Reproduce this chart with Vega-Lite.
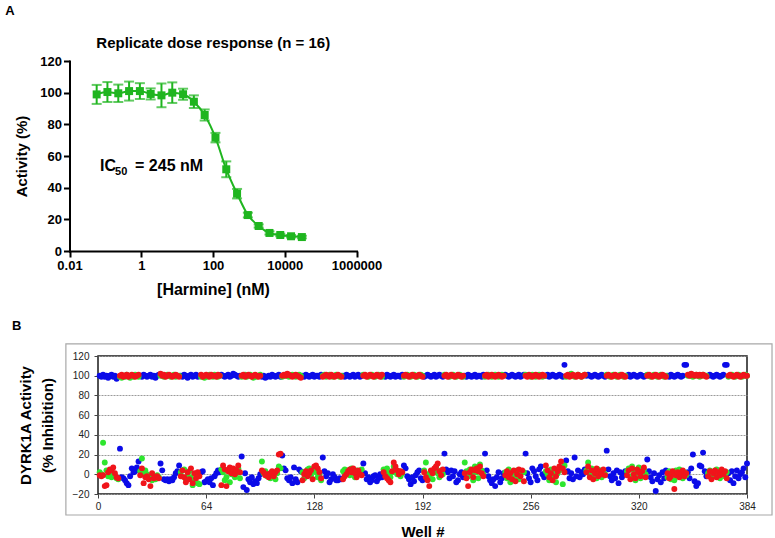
{
  "$schema": "https://vega.github.io/schema/vega-lite/v6.json",
  "padding": {"left": 5, "top": 5, "right": 5, "bottom": 5},
  "title": {"text": "A", "anchor": "start", "frame": "bounds", "fontSize": 13, "fontWeight": "bold", "offset": 18, "dx": -6, "color": "#000"},
  "spacing": 22,
  "config": {
    "font": "Liberation Sans",
    "view": {"stroke": null},
    "title": {"color": "#000"}
  },
  "vconcat": [
    {
      "title": {"text": "Replicate dose response (n = 16)", "fontSize": 15, "fontWeight": "bold", "anchor": "middle", "offset": 4, "dx": -14, "color": "#000"},
      "width": 258.5,
      "height": 190,
      "data": {"values": [
        {"conc": 0.0572, "act": 98.9, "lo": 92.9, "hi": 104.9},
        {"conc": 0.114, "act": 100.4, "lo": 94.1, "hi": 106.7},
        {"conc": 0.229, "act": 99.6, "lo": 94.1, "hi": 105.1},
        {"conc": 0.458, "act": 101.0, "lo": 95.0, "hi": 107.0},
        {"conc": 0.916, "act": 101.0, "lo": 96.0, "hi": 106.0},
        {"conc": 1.83, "act": 99.2, "lo": 95.7, "hi": 102.7},
        {"conc": 3.66, "act": 98.3, "lo": 90.8, "hi": 105.8},
        {"conc": 7.32, "act": 100.0, "lo": 93.5, "hi": 106.5},
        {"conc": 14.65, "act": 99.0, "lo": 95.5, "hi": 102.5},
        {"conc": 29.3, "act": 94.3, "lo": 90.3, "hi": 98.3},
        {"conc": 58.6, "act": 85.9, "lo": 82.4, "hi": 89.4},
        {"conc": 117.2, "act": 71.6, "lo": 68.6, "hi": 74.6},
        {"conc": 234.4, "act": 51.6, "lo": 46.6, "hi": 56.6},
        {"conc": 468.75, "act": 36.2, "lo": 33.2, "hi": 39.2},
        {"conc": 937.5, "act": 22.7, "lo": 21.2, "hi": 24.2},
        {"conc": 1875, "act": 15.8, "lo": 14.8, "hi": 16.8},
        {"conc": 3750, "act": 11.4, "lo": 10.4, "hi": 12.4},
        {"conc": 7500, "act": 10.1, "lo": 9.3, "hi": 10.9},
        {"conc": 15000, "act": 9.3, "lo": 8.5, "hi": 10.1},
        {"conc": 30000, "act": 8.8, "lo": 8.0, "hi": 9.6}
      ]},
      "layer": [
        {
          "mark": {"type": "line", "color": "#1fb51f", "strokeWidth": 2, "interpolate": "monotone"},
          "encoding": {
            "x": {"field": "conc", "type": "quantitative",
                  "scale": {"type": "log", "domain": [0.01, 1000000], "nice": false, "range": [-28.5, 258.5]},
                  "axis": {"values": [0.01, 1, 100, 10000, 1000000], "format": ".2~f", "title": "[Harmine] (nM)",
                           "titleFontSize": 16, "titleFontWeight": "bold", "titleColor": "#000", "titlePadding": 9,
                           "labelFontSize": 13, "labelFontWeight": "bold", "labelColor": "#000", "labelPadding": 2,
                           "labelFlush": false, "labelOverlap": false, "tickSize": 6, "tickWidth": 2, "tickColor": "#000",
                           "domainColor": "#000", "domainWidth": 2, "domainCap": "square", "grid": false}},
            "y": {"field": "act", "type": "quantitative",
                  "scale": {"domain": [0, 120], "nice": false},
                  "axis": {"values": [0, 20, 40, 60, 80, 100, 120], "title": "Activity (%)", "labelOverlap": false, "offset": 28.5,
                           "titleFontSize": 15, "titleFontWeight": "bold", "titleColor": "#000", "titlePadding": 10,
                           "labelFontSize": 13, "labelFontWeight": "bold", "labelColor": "#000", "labelPadding": 2,
                           "tickSize": 6, "tickWidth": 2, "tickColor": "#000",
                           "domainColor": "#000", "domainWidth": 2, "domainCap": "square", "grid": false}}
          }
        },
        {
          "mark": {"type": "errorbar", "color": "#1fb51f", "ticks": {"size": 10, "thickness": 2, "color": "#1fb51f"}, "rule": {"strokeWidth": 2, "color": "#1fb51f"}},
          "encoding": {
            "x": {"field": "conc", "type": "quantitative"},
            "y": {"field": "lo", "type": "quantitative",
                  "axis": {"values": [0, 20, 40, 60, 80, 100, 120], "title": "Activity (%)", "labelOverlap": false, "offset": 28.5,
                           "titleFontSize": 15, "titleFontWeight": "bold", "titleColor": "#000", "titlePadding": 10,
                           "labelFontSize": 13, "labelFontWeight": "bold", "labelColor": "#000", "labelPadding": 2,
                           "tickSize": 6, "tickWidth": 2, "tickColor": "#000",
                           "domainColor": "#000", "domainWidth": 2, "domainCap": "square", "grid": false}},
            "y2": {"field": "hi"}
          }
        },
        {
          "mark": {"type": "square", "filled": true, "size": 64, "color": "#1fb51f", "opacity": 1},
          "encoding": {
            "x": {"field": "conc", "type": "quantitative"},
            "y": {"field": "act", "type": "quantitative",
                  "axis": {"values": [0, 20, 40, 60, 80, 100, 120], "title": "Activity (%)", "labelOverlap": false, "offset": 28.5,
                           "titleFontSize": 15, "titleFontWeight": "bold", "titleColor": "#000", "titlePadding": 10,
                           "labelFontSize": 13, "labelFontWeight": "bold", "labelColor": "#000", "labelPadding": 2,
                           "tickSize": 6, "tickWidth": 2, "tickColor": "#000",
                           "domainColor": "#000", "domainWidth": 2, "domainCap": "square", "grid": false}}
          }
        },
        {
          "data": {"values": [{}]},
          "mark": {"type": "text", "text": "IC", "fontSize": 16, "fontWeight": "bold", "align": "left", "baseline": "middle", "color": "#000"},
          "encoding": {"x": {"datum": 0.0711, "type": "quantitative"},
                       "y": {"datum": 54, "type": "quantitative",
                  "axis": {"values": [0, 20, 40, 60, 80, 100, 120], "title": "Activity (%)", "labelOverlap": false, "offset": 28.5,
                           "titleFontSize": 15, "titleFontWeight": "bold", "titleColor": "#000", "titlePadding": 10,
                           "labelFontSize": 13, "labelFontWeight": "bold", "labelColor": "#000", "labelPadding": 2,
                           "tickSize": 6, "tickWidth": 2, "tickColor": "#000",
                           "domainColor": "#000", "domainWidth": 2, "domainCap": "square", "grid": false}}}
        },
        {
          "data": {"values": [{}]},
          "mark": {"type": "text", "text": "50", "fontSize": 11, "fontWeight": "bold", "align": "left", "baseline": "middle", "dx": 15, "dy": 6, "color": "#000"},
          "encoding": {"x": {"datum": 0.0711, "type": "quantitative"},
                       "y": {"datum": 54, "type": "quantitative",
                  "axis": {"values": [0, 20, 40, 60, 80, 100, 120], "title": "Activity (%)", "labelOverlap": false, "offset": 28.5,
                           "titleFontSize": 15, "titleFontWeight": "bold", "titleColor": "#000", "titlePadding": 10,
                           "labelFontSize": 13, "labelFontWeight": "bold", "labelColor": "#000", "labelPadding": 2,
                           "tickSize": 6, "tickWidth": 2, "tickColor": "#000",
                           "domainColor": "#000", "domainWidth": 2, "domainCap": "square", "grid": false}}}
        },
        {
          "data": {"values": [{}]},
          "mark": {"type": "text", "text": "= 245 nM", "fontSize": 16, "fontWeight": "bold", "align": "left", "baseline": "middle", "dx": 35, "color": "#000"},
          "encoding": {"x": {"datum": 0.0711, "type": "quantitative"},
                       "y": {"datum": 54, "type": "quantitative",
                  "axis": {"values": [0, 20, 40, 60, 80, 100, 120], "title": "Activity (%)", "labelOverlap": false, "offset": 28.5,
                           "titleFontSize": 15, "titleFontWeight": "bold", "titleColor": "#000", "titlePadding": 10,
                           "labelFontSize": 13, "labelFontWeight": "bold", "labelColor": "#000", "labelPadding": 2,
                           "tickSize": 6, "tickWidth": 2, "tickColor": "#000",
                           "domainColor": "#000", "domainWidth": 2, "domainCap": "square", "grid": false}}}
        }
      ]
    },
    {
      "title": {"text": "B", "anchor": "start", "frame": "bounds", "fontSize": 13, "fontWeight": "bold", "offset": 10, "dx": -6, "color": "#000"},
      "width": 649,
      "height": 138,
      "view": {"stroke": "#1a1a1a", "strokeWidth": 1.5},
      "layer": [
        {
          "data": {"values": [{}]},
          "mark": {"type": "rect", "fillOpacity": 0, "stroke": "#a8a8a8", "strokeWidth": 1.2, "clip": false},
          "encoding": {
            "x": {"datum": -19, "type": "quantitative", "scale": {"domain": [0, 384], "nice": false, "zero": false},
                  "axis": {"values": [0, 64, 128, 192, 256, 320, 384], "title": "Well #", "titleFontSize": 15, "titleFontWeight": "bold", "titleColor": "#000", "titlePadding": 13,
                           "labelFontSize": 10, "labelColor": "#222", "labelPadding": 3, "labelFlush": false, "tickSize": 4, "tickColor": "#444", "domain": false, "grid": false}},
            "x2": {"datum": 398.8},
            "y": {"datum": -41.3, "type": "quantitative", "scale": {"domain": [-20, 120], "nice": false, "zero": false},
                  "axis": {"values": [-20, 0, 20, 40, 60, 80, 100, 120], "title": ["DYRK1A Activity", "(% Inhibition)"], "titleFontSize": 15, "titleFontWeight": "bold", "titleColor": "#000", "titleLineHeight": 22, "titlePadding": 17,
                           "labelFontSize": 10, "labelColor": "#222", "labelPadding": 5, "tickSize": 4, "tickColor": "#444", "domain": false, "labelOverlap": false,
                           "grid": true, "gridColor": "#9a9a9a", "gridDash": [2, 1], "gridWidth": 1}},
            "y2": {"datum": 132.2}
          }
        },
        {
          "data": {
            "values": "w,b,r,g\n1,100,-1,2\n2,99,-2,0\n3,101,-1,32\n4,99,-12,12\n5,100,-11,4\n6,98,2,-2\n7,100,5,1\n8,101,4,-3\n9,99,7,0\n10,100,1,-2\n11,97,-3,-4\n12,99,-4,-5\n13,26,100,99\n14,-3,101,98\n15,-4,99,100\n16,-6,100,99\n17,-9,101,101\n18,-11,99,100\n19,-2,100,98\n20,6,101,100\n21,2,100,99\n22,3,99,101\n23,7,100,100\n24,13,101,99\n25,100,-1,3\n26,99,6,16\n27,101,-9,1\n28,100,-3,4\n29,99,-2,0\n30,100,-5,-4\n31,101,-12,-3\n32,99,1,-6\n33,100,-4,-2\n34,98,-3,-5\n35,100,-2,-1\n36,101,-4,-3\n37,11,102,100\n38,4,100,101\n39,-5,101,99\n40,-6,99,100\n41,-5,100,101\n42,-7,101,100\n43,-5,100,99\n44,-6,99,100\n45,-3,100,101\n46,1,101,99\n47,3,100,100\n48,9,99,100\n49,100,-2,2\n50,99,4,4\n51,101,-3,5\n52,100,-8,-5\n53,98,2,-2\n54,100,-5,3\n55,101,6,-3\n56,99,-9,-11\n57,100,1,-6\n58,101,-4,0\n59,99,2,-9\n60,100,-2,-10\n61,2,101,99\n62,3,99,100\n63,-8,100,98\n64,-7,101,100\n65,-5,100,99\n66,-8,99,101\n67,-4,101,100\n68,-11,100,99\n69,-2,100,101\n70,1,99,100\n71,4,101,99\n72,2,100,100\n73,101,-11,5\n74,100,9,2\n75,99,5,-6\n76,100,-12,-3\n77,101,3,4\n78,99,7,-8\n79,100,1,0\n80,102,6,3\n81,101,0,-3\n82,100,4,1\n83,99,9,6\n84,100,2,-4\n85,18,100,99\n86,-13,101,100\n87,1,99,101\n88,-16,100,99\n89,-5,101,100\n90,-8,100,101\n91,-3,99,100\n92,-10,100,98\n93,-7,101,100\n94,-9,100,99\n95,-4,99,100\n96,0,100,101\n97,99,4,13\n98,100,2,1\n99,98,-1,3\n100,99,0,-2\n101,100,-3,-1\n102,99,1,-4\n103,101,3,2\n104,100,-2,0\n105,99,2,-5\n106,100,4,1\n107,101,20,8\n108,99,21,6\n109,19,100,99\n110,6,101,100\n111,4,100,101\n112,-4,102,100\n113,-6,101,99\n114,-3,100,100\n115,-9,99,101\n116,7,100,100\n117,-5,101,99\n118,-8,100,100\n119,5,99,101\n120,3,98,100\n121,100,-6,2\n122,99,0,-4\n123,101,3,1\n124,100,-2,5\n125,99,1,6\n126,100,4,-1\n127,101,-5,3\n128,99,8,7\n129,100,9,2\n130,100,6,-3\n131,99,2,0\n132,101,-4,-6\n133,17,99,100\n134,3,100,101\n135,-2,101,99\n136,1,100,100\n137,-8,99,101\n138,-5,101,100\n139,0,100,99\n140,-3,99,100\n141,-6,100,101\n142,-6,101,100\n143,-4,100,99\n144,-5,99,100\n145,100,-5,3\n146,99,-2,5\n147,101,0,1\n148,100,3,4\n149,99,5,-1\n150,100,2,6\n151,101,6,2\n152,99,1,-3\n153,100,-3,4\n154,101,4,0\n155,99,0,3\n156,100,-1,5\n157,11,100,101\n158,1,101,100\n159,-5,99,100\n160,-3,100,99\n161,-8,101,100\n162,-6,100,101\n163,-2,99,100\n164,-1,100,99\n165,-7,101,100\n166,-4,100,101\n167,0,99,100\n168,-3,101,99\n169,100,2,5\n170,99,-2,4\n171,101,-4,6\n172,100,-6,1\n173,99,-8,-3\n174,100,3,2\n175,101,12,8\n176,99,8,5\n177,100,4,0\n178,100,0,3\n179,99,3,-2\n180,101,2,1\n181,9,100,99\n182,6,101,100\n183,-2,100,101\n184,-5,99,100\n185,-10,100,99\n186,-3,101,100\n187,-7,100,101\n188,-1,99,100\n189,2,100,99\n190,4,101,100\n191,-4,100,101\n192,-6,99,100\n193,99,2,4\n194,100,-3,12\n195,101,-6,0\n196,100,-12,-2\n197,99,4,3\n198,100,1,-5\n199,101,6,2\n200,99,8,7\n201,100,11,1\n202,101,3,-3\n203,100,-1,4\n204,99,5,0\n205,21,100,101\n206,5,101,100\n207,2,99,100\n208,-4,100,99\n209,4,101,100\n210,-2,100,101\n211,3,99,100\n212,-8,100,99\n213,-6,101,100\n214,0,100,101\n215,2,99,100\n216,-3,100,99\n217,100,1,12\n218,99,-4,3\n219,101,-12,-2\n220,100,2,5\n221,99,5,1\n222,100,-3,-6\n223,101,4,8\n224,99,6,2\n225,100,3,-4\n226,100,8,10\n227,99,1,4\n228,101,-2,0\n229,21,100,99\n230,4,101,100\n231,-2,99,101\n232,-6,100,100\n233,-9,101,99\n234,-5,100,100\n235,-12,99,101\n236,-3,100,100\n237,2,101,99\n238,-8,100,100\n239,-4,99,101\n240,1,100,100\n241,101,-1,2\n242,100,3,-4\n243,99,-3,5\n244,100,1,-8\n245,101,-5,0\n246,100,4,3\n247,99,-7,-2\n248,100,0,4\n249,101,5,-5\n250,99,-2,1\n251,100,4,3\n252,101,-7,2\n253,21,100,101\n254,1,99,100\n255,-4,101,100\n256,-8,100,99\n257,6,99,101\n258,3,100,100\n259,-2,101,99\n260,-6,100,100\n261,5,99,101\n262,8,100,100\n263,0,101,99\n264,-3,100,100\n265,100,9,3\n266,101,4,0\n267,99,-3,-6\n268,100,1,5\n269,101,-6,-3\n270,100,6,2\n271,99,-2,-8\n272,100,3,1\n273,101,8,4\n274,100,13,5\n275,99,6,-10\n276,111,2,9\n277,14,100,99\n278,3,101,100\n279,-4,99,101\n280,1,100,102\n281,-5,101,100\n282,17,100,99\n283,-2,99,100\n284,4,101,101\n285,-3,100,100\n286,2,99,99\n287,0,100,100\n288,5,101,101\n289,100,2,4\n290,101,8,12\n291,100,-3,0\n292,99,4,6\n293,100,-5,-2\n294,101,1,3\n295,100,6,-4\n296,99,-2,5\n297,100,3,1\n298,101,0,-3\n299,100,5,2\n300,99,-1,0\n301,24,100,101\n302,5,101,100\n303,-2,100,99\n304,-6,99,100\n305,1,100,101\n306,-4,101,100\n307,4,100,99\n308,-9,99,100\n309,2,100,101\n310,-3,101,100\n311,0,100,99\n312,3,99,100\n313,100,-1,3\n314,101,4,6\n315,99,-5,-2\n316,100,6,8\n317,101,0,4\n318,100,-4,-6\n319,99,5,1\n320,100,2,7\n321,101,-2,-4\n322,100,3,2\n323,99,7,5\n324,100,-3,0\n325,15,100,101\n326,3,101,100\n327,-3,100,99\n328,-7,99,100\n329,1,100,101\n330,-17,101,100\n331,-5,100,99\n332,-1,99,100\n333,-8,100,101\n334,2,101,100\n335,-4,100,99\n336,4,99,100\n337,100,1,-3\n338,99,-4,3\n339,101,-2,-5\n340,100,3,0\n341,99,-15,-6\n342,100,-1,4\n343,101,2,-2\n344,100,-3,5\n345,99,0,1\n346,100,4,-4\n347,111,-2,2\n348,111,1,-1\n349,2,101,100\n350,-4,100,101\n351,6,102,100\n352,20,101,99\n353,-7,100,100\n354,-12,101,101\n355,-9,100,100\n356,9,101,99\n357,8,100,100\n358,22,101,101\n359,3,100,100\n360,-2,99,100\n361,100,-2,1\n362,101,3,4\n363,100,-5,-3\n364,99,1,2\n365,100,4,-1\n366,101,-3,5\n367,100,2,0\n368,99,-1,-4\n369,100,5,3\n370,101,0,1\n371,111,3,-2\n372,111,-4,2\n373,1,100,99\n374,-6,101,100\n375,3,100,101\n376,-9,99,100\n377,-2,100,99\n378,4,101,100\n379,-4,100,101\n380,0,99,100\n381,2,100,99\n382,6,101,100\n383,-3,100,101\n384,11,100,100",
            "format": {"type": "csv", "parse": {"w": "number", "b": "number", "r": "number", "g": "number"}}
          },
          "transform": [{"fold": ["b", "r", "g"], "as": ["series", "val"]}],
          "mark": {"type": "circle", "size": 35, "opacity": 1},
          "encoding": {
            "x": {"field": "w", "type": "quantitative", "scale": {"domain": [0, 384], "nice": false, "zero": false},
                  "axis": {"values": [0, 64, 128, 192, 256, 320, 384], "title": "Well #", "titleFontSize": 15, "titleFontWeight": "bold", "titleColor": "#000", "titlePadding": 13,
                           "labelFontSize": 10, "labelColor": "#222", "labelPadding": 3, "labelFlush": false, "tickSize": 4, "tickColor": "#444", "domain": false, "grid": false}},
            "y": {"field": "val", "type": "quantitative", "scale": {"domain": [-20, 120], "nice": false, "zero": false},
                  "axis": {"values": [-20, 0, 20, 40, 60, 80, 100, 120], "title": ["DYRK1A Activity", "(% Inhibition)"], "titleFontSize": 15, "titleFontWeight": "bold", "titleColor": "#000", "titleLineHeight": 22, "titlePadding": 17,
                           "labelFontSize": 10, "labelColor": "#222", "labelPadding": 5, "tickSize": 4, "tickColor": "#444", "domain": false, "labelOverlap": false,
                           "grid": true, "gridColor": "#9a9a9a", "gridDash": [2, 1], "gridWidth": 1}},
            "color": {"field": "series", "type": "nominal", "scale": {"domain": ["b", "r", "g"], "range": ["#0b0be8", "#f0141a", "#2ee62e"]}, "legend": null},
            "order": {"field": "series", "type": "nominal"}
          }
        }
      ]
    }
  ]
}
